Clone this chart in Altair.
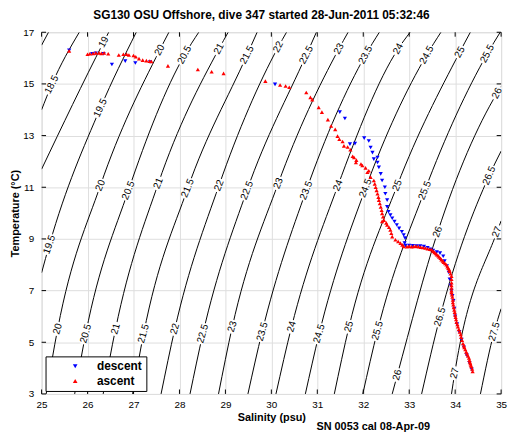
import altair as alt
import pandas as pd

TITLE = "SG130 OSU Offshore, dive 347 started 28-Jun-2011 05:32:46"
X_TITLE = "Salinity (psu)"
Y_TITLE = "Temperature (°C)"
FOOTNOTE = "SN 0053 cal 08-Apr-09"
X_TICKS = list(range(25, 36))
Y_TICKS = [3, 5, 7, 9, 11, 13, 15, 17]
SERIES = ["descent", "ascent"]

# isopycnal (sigma-t) contours: (salinity, temperature)
CONTOURS = {
    "18": [(25.0, 16.5), (25.15, 17.0)],
    "18.5": [(25.0, 14.0), (25.22, 14.97), (25.82, 17.0)],
    "19": [(25.0, 11.7), (26.35, 16.62), (26.46, 17.0)],
    "19.5": [(25.0, 7.69), (25.17, 8.78), (26.28, 14.07), (27.06, 17.0)],
    "20": [(25.10, 3.0), (25.35, 5.52), (26.28, 11.07), (27.57, 16.31), (27.77, 17.0)],
    "20.5": [(25.72, 3.0), (25.96, 5.33), (26.89, 10.88), (28.11, 16.12), (28.42, 17.0)],
    "21": [(26.34, 3.0), (26.61, 5.52), (27.54, 11.15), (28.86, 16.36), (29.06, 17.0)],
    "21.5": [(26.98, 3.0), (27.22, 5.33), (28.18, 10.96), (29.47, 16.12), (29.69, 17.0)],
    "22": [(27.60, 3.0), (27.90, 5.52), (28.86, 11.07), (30.15, 16.43), (30.33, 17.0)],
    "22.5": [(28.23, 3.0), (28.51, 5.33), (29.47, 10.88), (30.76, 16.12), (30.98, 17.0)],
    "23": [(28.85, 3.0), (29.15, 5.60), (30.15, 11.15), (31.47, 16.36), (31.67, 17.0)],
    "23.5": [(29.49, 3.0), (29.80, 5.41), (30.76, 10.88), (32.05, 16.12), (32.35, 17.0)],
    "24": [(30.10, 3.0), (30.44, 5.60), (31.45, 11.07), (32.76, 16.36), (33.02, 17.0)],
    "24.5": [(30.74, 3.0), (31.04, 5.33), (32.05, 10.96), (33.38, 16.12), (33.69, 17.0)],
    "25": [(31.37, 3.0), (31.69, 5.60), (32.74, 11.07), (34.10, 16.23), (34.33, 17.0)],
    "25.5": [(31.99, 3.0), (32.31, 5.45), (33.34, 10.88), (34.70, 16.17), (34.98, 17.0)],
    "26": [(32.63, 3.0), (32.74, 3.73), (33.62, 9.27), (34.91, 14.64), (35.0, 14.9)],
    "26.5": [(33.27, 3.0), (33.67, 5.98), (34.74, 11.45), (35.0, 12.4)],
    "27": [(33.92, 3.0), (33.99, 3.80), (34.91, 9.27), (35.0, 9.7)],
    "27.5": [(34.55, 3.0), (34.85, 5.41), (35.0, 6.3)],
}

# contour labels: (text, salinity, temperature)
LABELS = [
    ("18.5", 25.22, 14.97), ("19", 26.35, 16.62),
    ("19.5", 25.17, 8.78), ("19.5", 26.28, 14.07),
    ("20", 25.35, 5.52), ("20", 26.28, 11.07), ("20", 27.57, 16.31),
    ("20.5", 25.96, 5.33), ("20.5", 26.89, 10.88), ("20.5", 28.11, 16.12),
    ("21", 26.61, 5.52), ("21", 27.54, 11.15), ("21", 28.86, 16.36),
    ("21.5", 27.22, 5.33), ("21.5", 28.18, 10.96), ("21.5", 29.47, 16.12),
    ("22", 27.90, 5.52), ("22", 28.86, 11.07), ("22", 30.15, 16.43),
    ("22.5", 28.51, 5.33), ("22.5", 29.47, 10.88), ("22.5", 30.76, 16.12),
    ("23", 29.15, 5.60), ("23", 30.15, 11.15), ("23", 31.47, 16.36),
    ("23.5", 29.80, 5.41), ("23.5", 30.76, 10.88), ("23.5", 32.05, 16.12),
    ("24", 30.44, 5.60), ("24", 31.45, 11.07), ("24", 32.76, 16.36),
    ("24.5", 31.04, 5.33), ("24.5", 32.05, 10.96), ("24.5", 33.38, 16.12),
    ("25", 31.69, 5.60), ("25", 32.74, 11.07), ("25", 34.10, 16.23),
    ("25.5", 32.31, 5.45), ("25.5", 33.34, 10.88), ("25.5", 34.70, 16.17),
    ("26", 32.74, 3.73), ("26", 33.62, 9.27), ("26", 34.91, 14.64),
    ("26.5", 33.67, 5.98), ("26.5", 34.74, 11.45),
    ("27", 33.99, 3.80), ("27", 34.91, 9.27),
    ("27.5", 34.85, 5.41),
]

DESCENT = [
    (25.60, 16.30),
    (26.10, 16.17), (26.18, 16.18), (26.35, 16.17),
    (26.53, 15.75), (26.82, 15.88), (27.04, 15.81), (27.36, 15.85),
    (30.08, 14.98),
    (31.49, 13.91), (31.60, 13.66),
    (31.71, 12.67), (31.82, 12.69),
    (32.02, 12.90), (32.12, 12.79), (32.16, 12.54), (32.20, 12.34), (32.23, 12.09), (32.31, 12.15),
    (32.31, 11.96), (32.34, 11.77), (32.38, 11.52), (32.41, 11.26), (32.47, 11.00), (32.48, 10.75),
    (32.52, 10.50), (32.52, 10.24), (32.55, 10.05), (32.59, 9.92), (32.63, 9.80), (32.68, 9.67),
    (32.73, 9.54), (32.78, 9.41), (32.84, 9.28), (32.88, 9.15), (32.91, 9.03), (32.90, 8.84),
    (32.92, 8.74), (33.00, 8.74), (33.08, 8.73), (33.16, 8.72), (33.24, 8.72), (33.32, 8.70),
    (33.40, 8.66), (33.46, 8.60), (33.52, 8.55), (33.60, 8.49), (33.67, 8.45), (33.74, 8.33),
    (33.77, 8.14), (33.82, 7.95), (33.86, 7.70), (33.88, 7.44), (33.90, 7.20), (33.92, 7.00),
    (33.94, 6.80), (33.96, 6.60), (33.98, 6.30), (34.00, 6.00), (34.04, 5.70), (34.09, 5.40),
    (34.14, 5.10), (34.19, 4.80), (34.25, 4.50), (34.31, 4.20), (34.36, 3.95),
]

ASCENT = [
    (25.60, 16.28),
    (26.00, 16.15), (26.05, 16.17), (26.12, 16.18), (26.18, 16.20), (26.25, 16.20), (26.30, 16.18),
    (26.36, 16.20), (26.45, 16.17),
    (26.68, 16.12), (26.78, 16.15), (26.85, 16.15), (26.90, 16.12),
    (27.00, 16.10), (27.05, 16.05), (27.12, 15.98), (27.20, 15.92), (27.28, 15.90), (27.35, 15.88),
    (27.39, 15.87),
    (27.75, 15.70), (28.40, 15.56), (28.70, 15.47), (28.96, 15.41),
    (29.87, 15.11), (30.19, 14.96), (30.31, 14.92), (30.39, 14.87),
    (30.76, 14.67), (30.85, 14.48), (30.89, 14.39), (31.03, 14.09), (31.10, 13.91), (31.23, 13.62),
    (31.30, 13.37), (31.39, 13.24), (31.44, 12.98), (31.48, 12.86), (31.55, 12.77), (31.58, 12.60),
    (31.66, 12.56), (31.72, 12.45), (31.80, 12.15),
    (31.77, 12.20), (31.85, 12.05), (31.84, 11.96), (31.95, 11.90), (31.98, 11.84), (32.05, 11.75),
    (32.09, 11.58), (32.12, 11.64), (32.16, 11.39), (32.23, 11.26), (32.25, 11.13), (32.27, 11.00),
    (32.29, 10.88), (32.31, 10.75), (32.33, 10.62), (32.34, 10.50), (32.36, 10.37), (32.38, 10.24),
    (32.40, 10.11), (32.41, 9.99), (32.43, 9.86), (32.45, 9.73), (32.41, 9.68), (32.50, 9.62),
    (32.52, 9.54), (32.56, 9.45), (32.59, 9.35), (32.61, 9.22), (32.63, 9.09), (32.70, 8.97),
    (32.76, 8.90), (32.81, 8.84), (32.85, 8.77), (32.88, 8.71),
    (32.95, 8.70), (33.00, 8.72), (33.05, 8.70), (33.10, 8.71), (33.15, 8.72), (33.20, 8.70),
    (33.25, 8.68), (33.30, 8.67), (33.35, 8.65), (33.40, 8.62), (33.45, 8.60),
    (33.49, 8.58), (33.52, 8.53), (33.55, 8.48), (33.58, 8.44), (33.60, 8.39), (33.63, 8.35),
    (33.65, 8.30), (33.68, 8.25), (33.70, 8.20), (33.73, 8.15), (33.75, 8.10), (33.78, 8.05),
    (33.81, 8.00), (33.83, 7.93), (33.85, 7.87), (33.87, 7.81), (33.88, 7.75), (33.90, 7.65),
    (33.92, 7.56), (33.92, 7.44), (33.92, 7.31), (33.92, 7.20), (33.92, 7.10), (33.92, 7.00),
    (33.92, 6.93), (33.93, 6.84), (33.94, 6.75), (33.95, 6.64), (33.95, 6.54), (33.96, 6.45),
    (33.97, 6.35), (33.98, 6.25), (33.99, 6.16), (34.00, 6.06), (34.01, 5.97), (34.02, 5.88),
    (34.03, 5.78), (34.05, 5.69), (34.06, 5.60), (34.08, 5.50), (34.10, 5.40), (34.12, 5.30),
    (34.13, 5.20), (34.15, 5.08), (34.17, 4.95), (34.19, 4.87), (34.20, 4.80), (34.22, 4.72),
    (34.24, 4.63), (34.26, 4.55), (34.28, 4.47), (34.30, 4.39), (34.31, 4.31), (34.32, 4.24),
    (34.33, 4.18), (34.34, 4.12), (34.35, 4.06), (34.37, 3.97), (34.38, 3.87),
]

FONT = "Liberation Sans"
W, H = 465, 366

# ---- tables
crows = []
for sig, pts in CONTOURS.items():
    for i, (s, t) in enumerate(pts):
        crows.append({"sigma": sig, "idx": i, "S": s, "T": t})
contour_df = pd.DataFrame(crows)

label_df = pd.DataFrame(LABELS, columns=["lab", "S", "T"])

prow = []
for name, pts in zip(SERIES, [DESCENT, ASCENT]):
    for s, t in pts:
        prow.append({"series": name, "S": s, "T": t})
pts_df = pd.DataFrame(prow)

xscale = alt.Scale(domain=[25, 35], nice=False, zero=False)
yscale = alt.Scale(domain=[3, 17], nice=False, zero=False)

xaxis = alt.Axis(values=X_TICKS, format="d", title=X_TITLE, grid=True, tickSize=0,
                 domain=False, labelPadding=6, titlePadding=2, labelOverlap=False,
                 labelFlush=False)
yaxis = alt.Axis(values=Y_TICKS, format="d", title=Y_TITLE, grid=True, tickSize=0,
                 domain=False, labelPadding=8, titlePadding=2, labelOverlap=False,
                 labelFlush=False)

X = alt.X("S:Q", scale=xscale, axis=xaxis)
Y = alt.Y("T:Q", scale=yscale, axis=yaxis)

lines = alt.Chart(contour_df).mark_line(color="black", strokeWidth=1, interpolate="monotone",
                                          clip=True).encode(
    x=X, y=Y, detail="sigma:N", order="idx:Q")

lab_base = alt.Chart(label_df).transform_calculate(
    ang="280 + 1.1*datum.T",
    sz="length(datum.lab) > 2 ? 470 : 200",
)
lab_bg = lab_base.mark_point(shape="M-1,-0.3L1,-0.3L1,0.3L-1,0.3Z", filled=True,
                             color="white", opacity=1).encode(
    x=X, y=Y, angle=alt.Angle("ang:Q", scale=None), size=alt.Size("sz:Q", scale=None))
lab_txt = lab_base.mark_text(font=FONT, fontSize=10, color="black", align="center",
                             baseline="middle").encode(
    x=X, y=Y, angle=alt.Angle("ang:Q", scale=None), text="lab:N")

xt = pd.DataFrame({"v": X_TICKS})
yt = pd.DataFrame({"v": Y_TICKS})
xt_bot = alt.Chart(xt).mark_rule(color="black", strokeWidth=1).encode(
    x=alt.X("v:Q", scale=xscale), y=alt.value(H), y2=alt.value(H - 4.5))
xt_top = alt.Chart(xt).mark_rule(color="black", strokeWidth=1).encode(
    x=alt.X("v:Q", scale=xscale), y=alt.value(0), y2=alt.value(4.5))
yt_l = alt.Chart(yt).mark_rule(color="black", strokeWidth=1).encode(
    y=alt.Y("v:Q", scale=yscale), x=alt.value(0), x2=alt.value(4.5))
yt_r = alt.Chart(yt).mark_rule(color="black", strokeWidth=1).encode(
    y=alt.Y("v:Q", scale=yscale), x=alt.value(W), x2=alt.value(W - 4.5))

points = alt.Chart(pts_df).mark_point(filled=True, size=18, opacity=1).encode(
    x=X, y=Y,
    color=alt.Color("series:N", scale=alt.Scale(domain=SERIES, range=["#0000FF", "#FF0000"]),
                    legend=alt.Legend(title=None, orient="none", legendX=4, legendY=328,
                                      strokeColor="black", fillColor="white", padding=4,
                                      labelFont=FONT, labelFontSize=12, labelFontWeight="bold",
                                      labelColor="black", symbolSize=22, symbolOffset=20,
                                      labelOffset=16, rowPadding=3, symbolStrokeWidth=0)),
    shape=alt.Shape("series:N", scale=alt.Scale(domain=SERIES,
                                                range=["triangle-down", "triangle-up"]),
                    legend=alt.Legend(title=None, orient="none", legendX=4, legendY=328)),
)

foot = alt.Chart(pd.DataFrame({"t": [FOOTNOTE]})).mark_text(
    font=FONT, fontSize=11, fontWeight="bold", color="black", align="right",
    baseline="alphabetic").encode(x=alt.value(393), y=alt.value(402), text="t:N")

chart = alt.layer(lines, lab_bg, lab_txt, xt_bot, xt_top, yt_l, yt_r, points, foot).properties(
    width=W, height=H,
    title=alt.TitleParams(TITLE, font=FONT, fontSize=12, fontWeight="bold", color="black",
                          anchor="middle", frame="group", offset=5, dx=-10),
    autosize=alt.AutoSizeParams(type="none"),
    padding={"left": 34, "top": 22, "right": 10, "bottom": 38},
).configure_view(stroke="black", strokeWidth=1).configure_axis(
    labelFont=FONT, labelFontSize=12, labelFontWeight="bold", labelColor="black",
    titleFont=FONT, titleFontSize=12, titleFontWeight="bold", titleColor="black",
    gridColor="#808080", gridDash=[1, 3], gridWidth=1, gridOpacity=1,
).configure(background="white")

chart.save("out.html", embed_options={"renderer": "svg", "actions": False})
